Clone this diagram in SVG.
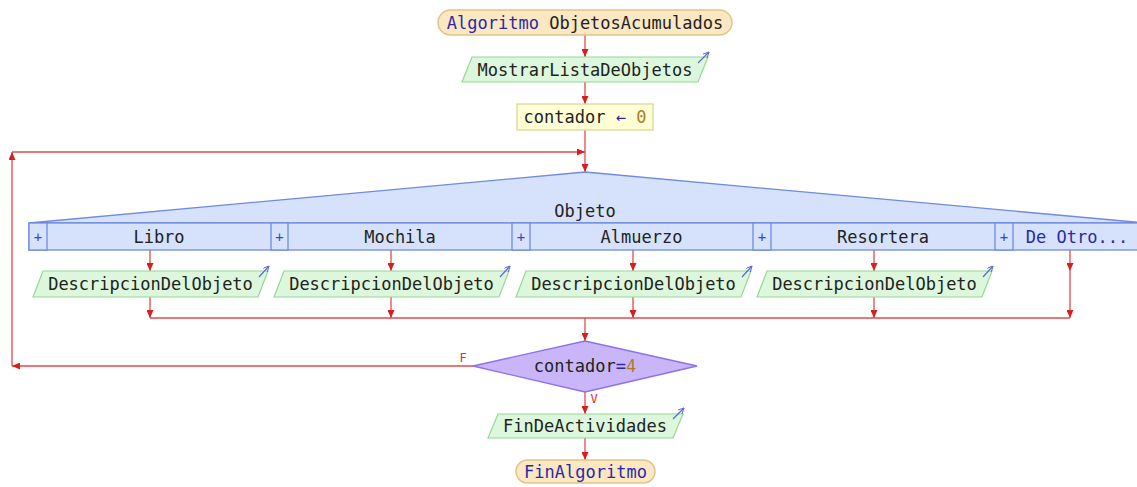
<svg xmlns="http://www.w3.org/2000/svg" width="1137" height="487" viewBox="0 0 1137 487">
<defs>
<style>
text{font-family:"DejaVu Sans Mono","Liberation Mono",monospace;font-size:17px;fill:#222;}
.kw{fill:#2a2aa8;}
.num{fill:#b07a2a;}
.op{fill:#2a2aa8;}
.term{fill:#fbe7c2;stroke:#e2c48a;stroke-width:1.5;}
.io{fill:#dcf7dc;stroke:#96d896;stroke-width:1.2;}
.asg{fill:#ffffd6;stroke:#d8d48c;stroke-width:1.2;}
.sel{fill:#d6e2fc;stroke:#6f8ae0;stroke-width:1.3;}
.dec{fill:#c9b6f8;stroke:#8d70ee;stroke-width:1.3;}
.plus{font-size:14px;fill:#3a4ab8;}
.lbl{font-size:12px;fill:#e03030;}
.conn{fill:none;stroke:#e24a4a;stroke-width:1.3;}
.icon{fill:none;stroke:#5a6ad8;stroke-width:1.2;}
</style>
<marker id="ah" markerWidth="8" markerHeight="7" refX="8" refY="3.5" orient="auto" markerUnits="userSpaceOnUse">
<path d="M0,0 L8,3.5 L0,7 Z" fill="#d42020"/>
</marker>
<marker id="ih" markerWidth="6" markerHeight="6" refX="6" refY="3" orient="auto" markerUnits="userSpaceOnUse">
<path d="M0,0 L6,3 L0,6" fill="none" stroke="#5a6ad8" stroke-width="1"/>
</marker>
</defs>

<g id="connectors">
<path class="conn" d="M585,35 V57" marker-end="url(#ah)"/>
<path class="conn" d="M585,82 V104" marker-end="url(#ah)"/>
<path class="conn" d="M585,130 V172" marker-end="url(#ah)"/>
<path class="conn" d="M473,366 H12" marker-end="url(#ah)"/>
<path class="conn" d="M12,366 V152" marker-end="url(#ah)"/>
<path class="conn" d="M12,152 H585" marker-end="url(#ah)"/>
<path class="conn" d="M150,250 V271" marker-end="url(#ah)"/>
<path class="conn" d="M150,297 V318" marker-end="url(#ah)"/>
<path class="conn" d="M391,250 V271" marker-end="url(#ah)"/>
<path class="conn" d="M391,297 V318" marker-end="url(#ah)"/>
<path class="conn" d="M633,250 V271" marker-end="url(#ah)"/>
<path class="conn" d="M633,297 V318" marker-end="url(#ah)"/>
<path class="conn" d="M874,250 V271" marker-end="url(#ah)"/>
<path class="conn" d="M874,297 V318" marker-end="url(#ah)"/>
<path class="conn" d="M1070,250 V271" marker-end="url(#ah)"/>
<path class="conn" d="M1070,271 V318" marker-end="url(#ah)"/>
<path class="conn" d="M150,318 H1070"/>
<path class="conn" d="M585,318 V341" marker-end="url(#ah)"/>
<path class="conn" d="M585,392 V414" marker-end="url(#ah)"/>
<path class="conn" d="M585,438 V460" marker-end="url(#ah)"/>
<text class="lbl" x="463" y="362" text-anchor="middle">F</text>
<text class="lbl" x="594" y="403" text-anchor="middle">V</text>
</g>

<g id="start">
<rect class="term" x="438" y="10" width="294" height="25" rx="12.5"/>
<text x="585" y="28.5" text-anchor="middle"><tspan class="kw">Algoritmo</tspan> ObjetosAcumulados</text>
</g>

<g id="mostrar">
<polygon class="io" points="472,57 708,57 698,82 462,82"/>
<text x="585" y="75.5" text-anchor="middle">MostrarListaDeObjetos</text>
<path class="icon" d="M698,63 L709,52" marker-end="url(#ih)"/>
</g>

<g id="asignacion">
<rect class="asg" x="517" y="104" width="136" height="26"/>
<text x="585" y="123" text-anchor="middle">contador <tspan class="op">←</tspan> <tspan class="num">0</tspan></text>
</g>

<g id="segun">
<polygon class="sel" points="585,172 1145,223 29,223"/>
<text x="585" y="217" text-anchor="middle">Objeto</text>
<rect class="sel" x="29" y="223" width="1120" height="27"/>
<rect class="sel" x="29" y="223" width="18" height="27"/>
<rect class="sel" x="271" y="223" width="17" height="27"/>
<rect class="sel" x="512" y="223" width="18" height="27"/>
<rect class="sel" x="753" y="223" width="18" height="27"/>
<rect class="sel" x="995" y="223" width="18" height="27"/>
<text class="plus" x="38" y="241.5" text-anchor="middle">+</text>
<text class="plus" x="279.5" y="241.5" text-anchor="middle">+</text>
<text class="plus" x="521" y="241.5" text-anchor="middle">+</text>
<text class="plus" x="762" y="241.5" text-anchor="middle">+</text>
<text class="plus" x="1004" y="241.5" text-anchor="middle">+</text>
<text x="159" y="242.5" text-anchor="middle">Libro</text>
<text x="400" y="242.5" text-anchor="middle">Mochila</text>
<text x="641.5" y="242.5" text-anchor="middle">Almuerzo</text>
<text x="883" y="242.5" text-anchor="middle">Resortera</text>
<text class="kw" x="1077" y="242.5" text-anchor="middle">De Otro...</text>
</g>

<g id="desc1">
<polygon class="io" points="43,271 268,271 258,297 33,297"/>
<text x="150.5" y="290" text-anchor="middle">DescripcionDelObjeto</text>
<path class="icon" d="M259,277 L269,266" marker-end="url(#ih)"/>
</g>
<g id="desc2">
<polygon class="io" points="284,271 509,271 499,297 274,297"/>
<text x="391.5" y="290" text-anchor="middle">DescripcionDelObjeto</text>
<path class="icon" d="M500,277 L510,266" marker-end="url(#ih)"/>
</g>
<g id="desc3">
<polygon class="io" points="526,271 751,271 741,297 516,297"/>
<text x="633.5" y="290" text-anchor="middle">DescripcionDelObjeto</text>
<path class="icon" d="M742,277 L752,266" marker-end="url(#ih)"/>
</g>
<g id="desc4">
<polygon class="io" points="767,271 992,271 982,297 757,297"/>
<text x="874.5" y="290" text-anchor="middle">DescripcionDelObjeto</text>
<path class="icon" d="M983,277 L993,266" marker-end="url(#ih)"/>
</g>

<g id="decision">
<polygon class="dec" points="585,341 697,366 585,392 473,366"/>
<text x="585" y="372" text-anchor="middle">contador<tspan class="op">=</tspan><tspan class="num">4</tspan></text>
</g>

<g id="fin-actividades">
<polygon class="io" points="498,414 683,414 673,438 488,438"/>
<text x="585" y="432" text-anchor="middle">FinDeActividades</text>
<path class="icon" d="M673,419 L684,408" marker-end="url(#ih)"/>
</g>

<g id="end">
<rect class="term" x="516" y="460" width="139" height="23" rx="11.5"/>
<text class="kw" x="585.5" y="477.5" text-anchor="middle">FinAlgoritmo</text>
</g>
</svg>
